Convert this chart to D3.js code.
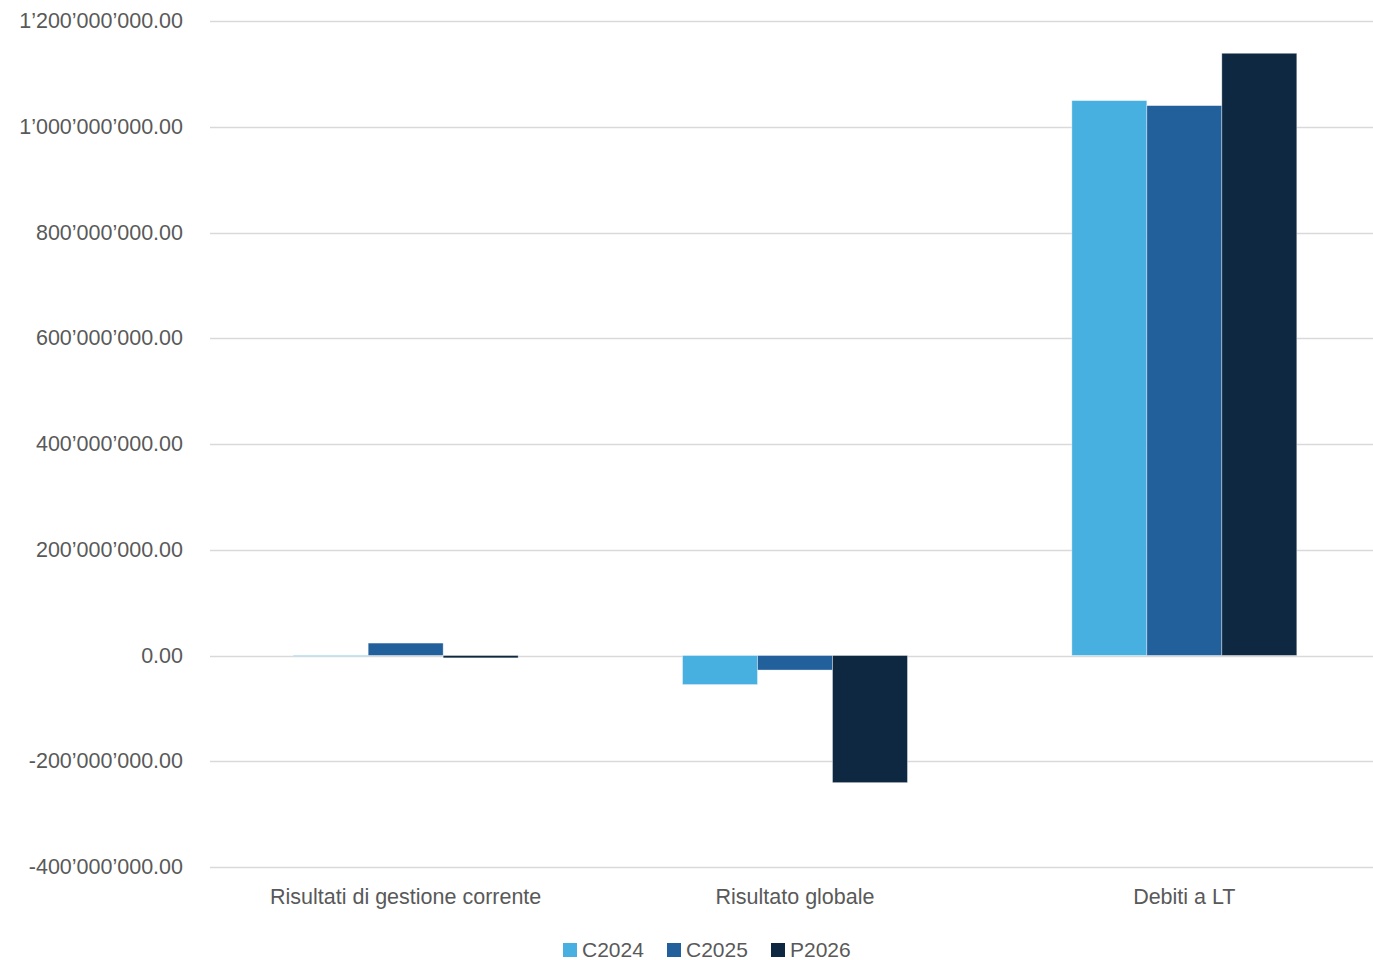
<!DOCTYPE html>
<html lang="en">
<head>
<meta charset="UTF-8">
<title>Chart</title>
<script src="https://cdn.jsdelivr.net/npm/d3@7"></script>
<style>
  body { margin: 0; background: #fff; }
  svg { display: block; font-family: "Liberation Sans", Arial, sans-serif; }
</style>
</head>
<body>
<div id="graphic"></div>
<script>
    // data
    var categories = ['Risultati di gestione corrente', 'Risultato globale', 'Debiti a LT'];
    var seriesNames = ['C2024', 'C2025', 'P2026'];
    var colors = ['#47b0e0', '#21609b', '#0f2841'];
    var c2024 = [-1500000, -55000000, 1049500000];
    var c2025 = [23500000, -27500000, 1040000000];
    var p2026 = [-4500000, -240500000, 1139000000];
    var yTicks = [-400000000, -200000000, 0, 200000000, 400000000, 600000000, 800000000, 1000000000, 1200000000];

    var width = 1373;
    var height = 960;

    var values = [c2024, c2025, p2026];
    var rows = categories.map(function(c, i) {
        return { cat: c, vals: seriesNames.map(function(s, j) { return { s: s, v: values[j][i], j: j }; }) };
    });

    var svg = d3.select('#graphic')
                .append('svg')
                .attr('width', width)
                .attr('height', height);

    var x0 = d3.scaleBand().domain(categories).range([211, 1379]).paddingInner(0).paddingOuter(0);
    // bars are ~75px wide inside a ~389px band
    var x1 = d3.scaleBand().domain(seriesNames).range([0, x0.bandwidth()]).paddingInner(0).paddingOuter(1.096);
    var y = d3.scaleLinear().domain([-400000000, 1200000000]).range([867, 21]);

    function fmt(v) {
        var s = d3.format(',.2f')(v).replace(/,/g, '\u2019');
        return s.replace('\u2212', '-');
    }

    // gridlines
    svg.append('g')
        .selectAll('line')
        .data(yTicks)
        .join('line')
        .attr('x1', 210)
        .attr('x2', width)
        .attr('y1', d => Math.round(y(d)) + 0.5)
        .attr('y2', d => Math.round(y(d)) + 0.5)
        .attr('stroke', '#d9d9d9')
        .attr('stroke-width', 1.5);

    // y labels
    svg.append('g')
        .selectAll('text')
        .data(yTicks)
        .join('text')
        .attr('x', 183)
        .attr('y', d => y(d) + 7)
        .attr('text-anchor', 'end')
        .attr('font-size', 21.5)
        .attr('fill', '#595959')
        .text(fmt);

    // bars
    var groups = svg.append('g')
        .selectAll('g')
        .data(rows)
        .join('g')
        .attr('transform', d => 'translate(' + x0(d.cat) + ',0)');

    groups.selectAll('rect')
        .data(d => d.vals)
        .join('rect')
        .attr('x', d => x1(d.s))
        .attr('width', x1.bandwidth())
        .attr('y', d => y(Math.max(0, d.v)))
        .attr('height', d => Math.abs(y(d.v) - y(0)))
        .attr('fill', d => colors[d.j])
        .attr('stroke', 'rgba(255,255,255,0.5)')
        .attr('stroke-width', 0.75);

    // category labels
    svg.append('g')
        .selectAll('text')
        .data(categories)
        .join('text')
        .attr('x', d => x0(d) + x0.bandwidth() / 2)
        .attr('y', 904)
        .attr('text-anchor', 'middle')
        .attr('font-size', 21.5)
        .attr('fill', '#595959')
        .text(d => d);

    // legend
    var legendX = [563, 667, 771];
    var legend = svg.append('g')
        .selectAll('g')
        .data(seriesNames)
        .join('g')
        .attr('transform', (d, i) => 'translate(' + legendX[i] + ',943)');

    legend.append('rect')
        .attr('width', 14)
        .attr('height', 14)
        .attr('fill', (d, i) => colors[i]);

    legend.append('text')
        .attr('x', 19)
        .attr('y', 14)
        .attr('font-size', 21)
        .attr('fill', '#595959')
        .text(d => d);
</script>
</body>
</html>
